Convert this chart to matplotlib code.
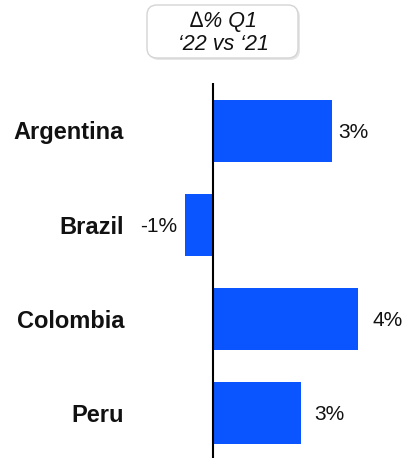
import matplotlib
matplotlib.use("Agg")
import matplotlib.pyplot as plt
from matplotlib.patches import FancyBboxPatch

# data
countries = ["Argentina", "Brazil", "Colombia", "Peru"]
change = [3.45, -0.8, 4.2, 2.55]
change_labels = ["3%", "-1%", "4%", "3%"]
header = "\u2206% Q1\n\u201822 vs \u201821"

BLUE = "#0A55FF"
plt.rcParams["font.family"] = ["Liberation Sans", "DejaVu Sans"]

W, H, DPI = 404, 458, 100
fig = plt.figure(figsize=(W / DPI, H / DPI), dpi=DPI)
ax = fig.add_axes([0, 0, 1, 1])

# pixel layout -> data limits
x0_px, px_per_unit = 213, 34.5
y0_px, px_per_row = 131, 94
ax.set_xlim(-x0_px / px_per_unit, (W - x0_px) / px_per_unit)
ax.set_ylim((H - y0_px) / px_per_row, -y0_px / px_per_row)
ax.axis("off")

ypos = list(range(len(countries)))
ax.barh(ypos, change, height=0.67, color=BLUE, zorder=2)
ax.vlines(0, (83 - y0_px) / px_per_row, (H - y0_px) / px_per_row,
          color="black", lw=1.5, zorder=3)

# category labels, right aligned left of the bars
lab_x = (124 - x0_px) / px_per_unit
for y, name in zip(ypos, countries):
	ax.annotate(name, (lab_x, y), xytext=(0, -2), textcoords="offset pixels",
				ha="right", va="center", fontsize=17,
				fontweight="bold", color="#111111")

# value labels with individual gaps (pixels), as in the reference
gaps = [6, 8, 15, 13]
for y, v, lab, g in zip(ypos, change, change_labels, gaps):
	off = g if v >= 0 else -g
	ax.annotate(lab, (v, y), xytext=(off, -2), textcoords="offset pixels",
				ha="left" if v >= 0 else "right", va="center",
				fontsize=15, color="#111111")

# header box
shadow = FancyBboxPatch((1.49, 3.98), 1.51, 0.53,
						boxstyle="round,pad=0,rounding_size=0.1",
						transform=fig.dpi_scale_trans, facecolor="#e6e6e6",
						edgecolor="none", zorder=0)
box = FancyBboxPatch((1.47, 4.00), 1.51, 0.53,
					 boxstyle="round,pad=0,rounding_size=0.1",
					 transform=fig.dpi_scale_trans, facecolor="white",
					 edgecolor="#d4d4d4", lw=1.0, zorder=1)
fig.patches.extend([shadow, box])
fig.text(223 / W, 1 - 33 / H, header, ha="center", va="center",
		 multialignment="center", fontsize=15.5, style="italic",
		 color="#111111", linespacing=1.1, zorder=2)

fig.savefig("out.png", dpi=DPI)
